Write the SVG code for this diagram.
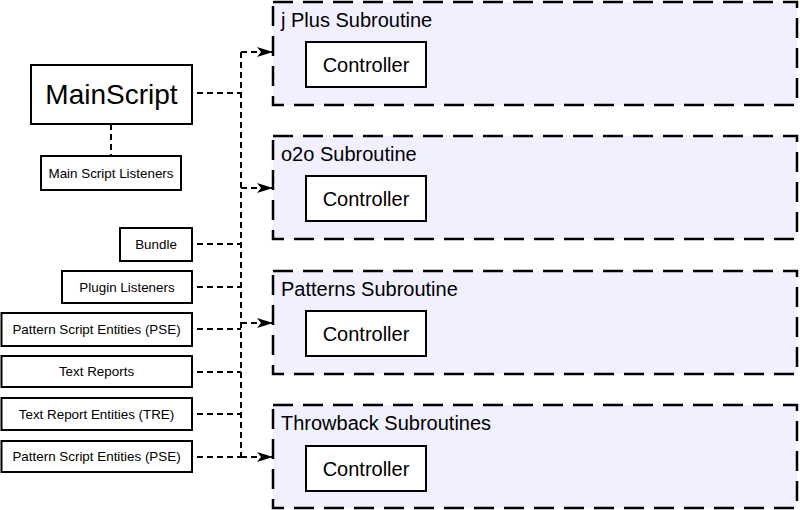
<svg xmlns="http://www.w3.org/2000/svg" width="800" height="510" viewBox="0 0 800 510">
<defs>
<marker id="arr" viewBox="0 0 16 10" refX="16" refY="5" markerWidth="16" markerHeight="10" markerUnits="userSpaceOnUse" orient="auto">
<path d="M0,0 L16,5 L0,10 L4,5 Z" fill="#000"/>
</marker>
<style>
text{font-family:"Liberation Sans",Arial,sans-serif;fill:#000}
.box{fill:#fff;stroke:#000;stroke-width:2}
.sub{fill:#f0f0fe;stroke:#000;stroke-width:2.5;stroke-dasharray:20 10}
.con{fill:none;stroke:#000;stroke-width:2;stroke-dasharray:6 4}
.lbl{font-size:13.4px;text-anchor:middle}
.title{font-size:20px}
.ctl{font-size:20px;text-anchor:middle}
</style>
</defs>
<rect width="800" height="510" fill="#fff"/>
<g id="sub1"><rect class="sub" x="273" y="2" width="524" height="103"/><text class="title" x="281" y="27">j Plus Subroutine</text><rect class="box" x="306" y="42" width="120" height="45"/><text class="ctl" x="366" y="72">Controller</text></g>
<g id="sub2"><rect class="sub" x="273" y="136" width="524" height="103"/><text class="title" x="281" y="161">o2o Subroutine</text><rect class="box" x="306" y="176" width="120" height="45"/><text class="ctl" x="366" y="206">Controller</text></g>
<g id="sub3"><rect class="sub" x="273" y="271" width="524" height="103"/><text class="title" x="281" y="296">Patterns Subroutine</text><rect class="box" x="306" y="311" width="120" height="45"/><text class="ctl" x="366" y="341">Controller</text></g>
<g id="sub4"><rect class="sub" x="273" y="405" width="524" height="103"/><text class="title" x="281" y="430">Throwback Subroutines</text><rect class="box" x="306" y="446" width="120" height="45"/><text class="ctl" x="366" y="476">Controller</text></g>
<g id="main"><rect class="box" x="31" y="65" width="161" height="59"/><text x="111.5" y="104" font-size="28" text-anchor="middle">MainScript</text></g>
<g id="mainlisteners"><rect class="box" x="41" y="156" width="140" height="34"/><text class="lbl" x="111" y="178">Main Script Listeners</text></g>
<g id="bundle"><rect class="box" x="120" y="228" width="72" height="33"/><text class="lbl" x="156" y="249">Bundle</text></g>
<g id="plugin"><rect class="box" x="62" y="271" width="130" height="32"/><text class="lbl" x="127" y="292">Plugin Listeners</text></g>
<g id="pse1"><rect class="box" x="1.5" y="313" width="190.5" height="33"/><text class="lbl" x="96.5" y="334">Pattern Script Entities (PSE)</text></g>
<g id="textreports"><rect class="box" x="1.5" y="356" width="190.5" height="31"/><text class="lbl" x="96.5" y="376">Text Reports</text></g>
<g id="tre"><rect class="box" x="1.5" y="398" width="190.5" height="32"/><text class="lbl" x="96.5" y="419">Text Report Entities (TRE)</text></g>
<g id="pse2"><rect class="box" x="1.5" y="441" width="190.5" height="31"/><text class="lbl" x="96.5" y="461">Pattern Script Entities (PSE)</text></g>
<g id="connectors">
<path class="con" d="M111,124 V156"/>
<path class="con" d="M197,93 H241"/>
<path class="con" d="M241,52 V457"/>
<path class="con" d="M241,52 H273" marker-end="url(#arr)"/>
<path class="con" d="M241,188 H273" marker-end="url(#arr)"/>
<path class="con" d="M241,323 H273" marker-end="url(#arr)"/>
<path class="con" d="M241,457 H273" marker-end="url(#arr)"/>
<path class="con" d="M197,244 H241"/>
<path class="con" d="M197,287 H241"/>
<path class="con" d="M197,329 H241"/>
<path class="con" d="M197,372 H241"/>
<path class="con" d="M197,414 H241"/>
<path class="con" d="M197,457 H241"/>
</g>
</svg>
